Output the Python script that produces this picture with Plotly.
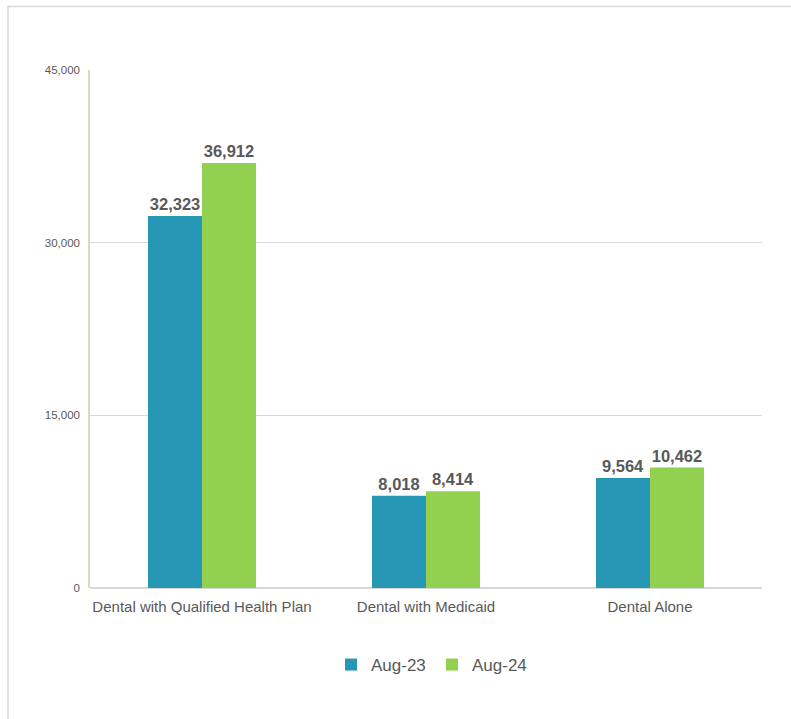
import plotly.graph_objects as go

categories = ["Dental with Qualified Health Plan", "Dental with Medicaid", "Dental Alone"]
aug23 = [32323, 8018, 9564]
aug24 = [36912, 8414, 10462]
series_names = ["Aug-23", "Aug-24"]
tick_vals = [0, 15000, 30000, 45000]

colors = ["#2596b4", "#92d050"]
font_family = "Arial, Liberation Sans, sans-serif"

fig = go.Figure()
for name, vals, col in zip(series_names, [aug23, aug24], colors):
    fig.add_trace(go.Bar(
        x=categories, y=vals, name=name, marker_color=col, marker_line_width=0,
        text=[f"{v:,}" for v in vals], textposition="outside", cliponaxis=False,
        textfont=dict(size=16.5, color="#595959", family=font_family, weight="bold"),
    ))

W, H = 791, 719
L, R, T, B = 90, 29, 70, 131
pw, ph = W - L - R, H - T - B

fig.update_layout(
    width=W, height=H,
    margin=dict(l=L, r=R, t=T, b=B),
    barmode="group", bargap=0.518, bargroupgap=0,
    plot_bgcolor="white", paper_bgcolor="white",
    font=dict(family=font_family, color="#595959"),
    showlegend=True,
    legend=dict(orientation="h", x=0.5 + 6 / pw, xanchor="center", y=(588 - 665) / ph, yanchor="middle",
                font=dict(size=17, color="#595959"), traceorder="normal",
                entrywidth=56, entrywidthmode="pixels"),
    xaxis=dict(showline=False, ticks="", tickfont=dict(size=15, color="#595959"),
               ticklabelstandoff=8),
    yaxis=dict(range=[0, 45000], tickvals=tick_vals, tickformat=",",
               showgrid=True, gridcolor="#d9d9d9", gridwidth=1,
               showline=True, linecolor="#ddd8c4", linewidth=1.5,
               zeroline=True, zerolinecolor="#d9d9d9", zerolinewidth=1.5,
               tickfont=dict(size=11.5, color="#595959"), ticks="", ticklen=0,
               ticklabelstandoff=6),
    shapes=[dict(type="rect", xref="paper", yref="paper",
                 x0=(8 - L) / pw, x1=(W + 20 - L) / pw,
                 y0=(588 - 6.5) / ph, y1=(588 - H - 20) / ph,
                 line=dict(color="#d9d9d9", width=1.5), fillcolor="rgba(0,0,0,0)", layer="below")],
)

fig.write_html("out.html", config={"displayModeBar": False},
               post_script="document.body.style.margin='0';document.body.style.overflow='hidden';")
